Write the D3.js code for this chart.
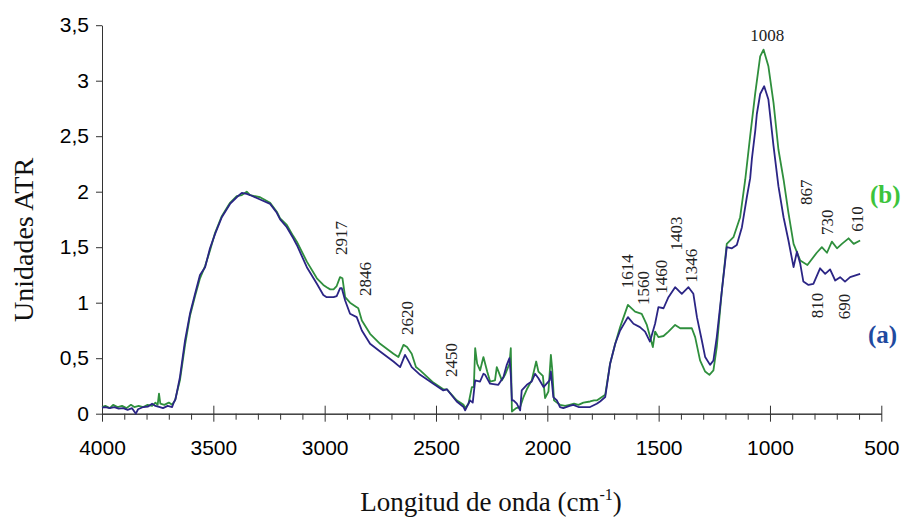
<!DOCTYPE html>
<html>
<head>
<meta charset="utf-8">
<script src="https://cdn.jsdelivr.net/npm/d3@7"></script>
<style>
  body { margin: 0; background: #fff; }
  .tick text { font-family: "Liberation Sans", Arial, sans-serif; }
</style>
</head>
<body>
<script>
// Sample (a) - blue trace: [wavenumber, ATR units]
var seriesA = [
  [4000,0.055],[3985,0.06],[3965,0.05],[3945,0.06],[3925,0.045],[3905,0.05],[3885,0.035],[3865,0.05],
  [3848,0.0],[3838,0.04],[3815,0.06],[3793,0.065],[3775,0.09],[3760,0.07],[3740,0.06],[3726,0.05],
  [3705,0.07],[3685,0.06],[3678,0.1],[3670,0.13],[3650,0.33],[3627,0.66],[3605,0.90],[3582,1.08],
  [3560,1.25],[3537,1.32],[3515,1.49],[3492,1.62],[3462,1.77],[3425,1.89],[3395,1.95],[3372,1.99],
  [3350,1.98],[3335,1.97],[3290,1.93],[3245,1.89],[3215,1.81],[3200,1.75],[3170,1.68],[3141,1.58],
  [3125,1.52],[3080,1.32],[3035,1.17],[3006,1.07],[2991,1.05],[2960,1.05],[2946,1.06],[2931,1.13],
  [2923,1.13],[2908,1.02],[2886,0.90],[2856,0.87],[2833,0.75],[2796,0.63],[2751,0.56],[2691,0.47],
  [2661,0.42],[2639,0.53],[2625,0.48],[2609,0.42],[2571,0.35],[2512,0.27],[2467,0.21],[2451,0.22],
  [2407,0.11],[2376,0.06],[2369,0.03],[2347,0.12],[2335,0.10],[2324,0.30],[2302,0.29],[2287,0.36],
  [2279,0.35],[2257,0.27],[2220,0.26],[2197,0.33],[2182,0.44],[2170,0.50],[2164,0.35],[2159,0.12],
  [2152,0.12],[2137,0.09],[2122,0.03],[2115,0.21],[2092,0.26],[2070,0.29],[2055,0.36],[2040,0.32],
  [2017,0.24],[1990,0.30],[1984,0.38],[1973,0.15],[1957,0.12],[1943,0.06],[1928,0.05],[1900,0.07],
  [1883,0.08],[1860,0.06],[1838,0.06],[1808,0.06],[1778,0.09],[1763,0.11],[1740,0.15],[1718,0.45],
  [1695,0.63],[1673,0.75],[1638,0.87],[1613,0.81],[1584,0.78],[1561,0.74],[1539,0.65],[1516,0.81],
  [1501,0.96],[1478,0.95],[1456,1.05],[1426,1.14],[1396,1.08],[1366,1.14],[1344,1.08],[1328,0.87],
  [1306,0.66],[1291,0.51],[1269,0.44],[1254,0.48],[1239,0.69],[1216,1.11],[1194,1.50],[1171,1.49],
  [1149,1.52],[1126,1.68],[1104,1.95],[1089,2.12],[1081,2.30],[1066,2.55],[1059,2.70],[1044,2.88],
  [1026,2.95],[1007,2.83],[984,2.41],[962,2.05],[939,1.77],[917,1.56],[894,1.32],[879,1.46],
  [864,1.35],[850,1.19],[827,1.16],[805,1.17],[775,1.31],[752,1.26],[730,1.30],[707,1.20],
  [685,1.23],[663,1.19],[640,1.23],[595,1.26]
];

// Sample (b) - green trace
var seriesB = [
  [4000,0.06],[3985,0.07],[3965,0.05],[3950,0.08],[3930,0.06],[3910,0.07],[3890,0.05],[3870,0.08],
  [3855,0.06],[3835,0.07],[3815,0.06],[3795,0.08],[3775,0.07],[3760,0.10],[3750,0.08],[3744,0.18],
  [3738,0.09],[3720,0.08],[3700,0.10],[3685,0.08],[3672,0.12],[3650,0.30],[3627,0.62],[3605,0.88],
  [3582,1.06],[3560,1.22],[3537,1.33],[3515,1.47],[3492,1.63],[3462,1.78],[3425,1.90],[3395,1.96],
  [3372,1.97],[3350,2.0],[3335,1.97],[3290,1.95],[3245,1.90],[3215,1.82],[3200,1.76],[3170,1.70],
  [3141,1.60],[3125,1.55],[3080,1.37],[3035,1.22],[3006,1.16],[2991,1.14],[2975,1.12],[2960,1.12],
  [2946,1.15],[2931,1.23],[2920,1.22],[2908,1.05],[2886,1.00],[2856,0.96],[2849,0.95],[2833,0.84],
  [2796,0.72],[2751,0.63],[2691,0.54],[2669,0.51],[2646,0.62],[2630,0.60],[2609,0.54],[2590,0.42],
  [2571,0.39],[2512,0.28],[2467,0.22],[2451,0.22],[2407,0.12],[2376,0.08],[2369,0.05],[2354,0.09],
  [2339,0.24],[2330,0.24],[2324,0.59],[2315,0.45],[2302,0.39],[2287,0.51],[2270,0.38],[2257,0.29],
  [2235,0.30],[2227,0.42],[2204,0.30],[2190,0.35],[2170,0.45],[2164,0.59],[2159,0.02],[2140,0.05],
  [2122,0.06],[2107,0.15],[2092,0.22],[2070,0.30],[2050,0.47],[2040,0.38],[2020,0.34],[2010,0.14],
  [1995,0.20],[1984,0.53],[1978,0.40],[1970,0.12],[1957,0.10],[1943,0.08],[1920,0.07],[1900,0.08],
  [1880,0.09],[1860,0.08],[1838,0.10],[1808,0.11],[1790,0.12],[1778,0.12],[1763,0.14],[1740,0.17],
  [1718,0.45],[1695,0.63],[1673,0.78],[1638,0.98],[1606,0.92],[1576,0.90],[1553,0.80],[1526,0.60],
  [1516,0.74],[1501,0.69],[1478,0.70],[1456,0.74],[1426,0.80],[1403,0.77],[1351,0.77],[1336,0.69],
  [1314,0.48],[1291,0.38],[1272,0.35],[1254,0.39],[1239,0.60],[1216,1.11],[1194,1.53],[1164,1.59],
  [1134,1.77],[1111,2.11],[1089,2.50],[1066,2.89],[1044,3.22],[1029,3.28],[1007,3.13],[984,2.80],
  [962,2.38],[939,2.11],[917,1.81],[894,1.53],[864,1.38],[832,1.34],[790,1.45],[767,1.50],
  [744,1.45],[722,1.55],[699,1.49],[677,1.53],[647,1.58],[624,1.53],[595,1.56]
];

var xTicks = [4000, 3500, 3000, 2500, 2000, 1500, 1000, 500];
var yTicks = [0, 0.5, 1, 1.5, 2, 2.5, 3, 3.5];

// peak labels, anchored at [wavenumber, ATR units]
var peakLabels = ["2917", "2846", "2620", "2450", "1614", "1560", "1460", "1403", "1346", "867", "730", "610", "810", "690"];
var peakWave   = [2899, 2792, 2603, 2405, 1615, 1543, 1462, 1394, 1327, 810, 716, 581, 761, 640];
var peakValue  = [1.43, 1.06, 0.71, 0.33, 1.13, 0.98, 1.08, 1.47, 1.18, 1.88, 1.61, 1.64, 0.86, 0.85];

var w = 902, h = 526;

var x = d3.scaleLinear().domain([4000, 500]).range([102, 881.3]);
var y = d3.scaleLinear().domain([0, 3.5]).range([413.7, 25.2]);

var svg = d3.select("body").append("svg")
    .attr("width", w)
    .attr("height", h);

// y axis
var yAxis = svg.append("g")
    .attr("transform", "translate(102,0)")
    .call(d3.axisLeft(y)
      .tickValues(yTicks)
      .tickSize(6)
      .tickSizeOuter(0)
      .tickFormat(function(d) { return String(d).replace(".", ","); }));
yAxis.selectAll("text").attr("font-size", 21).attr("fill", "#000").attr("x", -13);
yAxis.selectAll("line, path").attr("stroke", "#333");

// x axis minor ticks every 100
var minor = d3.range(4000, 499, -100).filter(function(d) { return d % 500 !== 0; });
var xMinor = svg.append("g")
    .attr("transform", "translate(0,413.7)")
    .call(d3.axisBottom(x).tickValues(minor).tickSize(6).tickSizeOuter(0).tickFormat(""));
xMinor.selectAll("line, path").attr("stroke", "#333");

// x axis major ticks crossing the line
var xAxis = svg.append("g")
    .attr("transform", "translate(0,413.7)")
    .call(d3.axisBottom(x).tickValues(xTicks).tickSize(8).tickSizeOuter(0)
      .tickPadding(18).tickFormat(d3.format("d")));
xAxis.selectAll(".tick line").attr("y1", -8);
xAxis.selectAll("line, path").attr("stroke", "#333");
xAxis.selectAll("text").attr("font-size", 21).attr("fill", "#000");

var line = d3.line()
    .x(function(d) { return x(d[0]); })
    .y(function(d) { return y(d[1]); });

svg.append("path")
    .datum(seriesB)
    .attr("d", line)
    .attr("fill", "none")
    .attr("stroke", "#2f8f3d")
    .attr("stroke-width", 1.8)
    .attr("stroke-linejoin", "round");

svg.append("path")
    .datum(seriesA)
    .attr("d", line)
    .attr("fill", "none")
    .attr("stroke", "#2b2585")
    .attr("stroke-width", 1.8)
    .attr("stroke-linejoin", "round");

// peak annotations (rotated)
var serif = "'Liberation Serif', 'DejaVu Serif', serif";
svg.selectAll(".peak")
  .data(peakLabels)
  .enter().append("text")
    .attr("class", "peak")
    .attr("transform", function(d, i) {
      return "translate(" + x(peakWave[i]) + "," + y(peakValue[i]) + ") rotate(-90)";
    })
    .attr("font-family", serif)
    .attr("font-size", 17)
    .attr("fill", "#222")
    .text(function(d) { return d; });

svg.append("text")
    .attr("x", x(1008) - 1)
    .attr("y", 41)
    .attr("text-anchor", "middle")
    .attr("font-family", serif)
    .attr("font-size", 17)
    .attr("fill", "#222")
    .text("1008");

// series labels
svg.append("text")
    .attr("x", 870).attr("y", 203)
    .attr("font-family", serif).attr("font-weight", "bold")
    .attr("font-size", 25).attr("fill", "#3cc43c")
    .text("(b)");
svg.append("text")
    .attr("x", 868).attr("y", 343)
    .attr("font-family", serif).attr("font-weight", "bold")
    .attr("font-size", 25).attr("fill", "#1f4aa0")
    .text("(a)");

// axis titles
var xt = svg.append("text")
    .attr("x", 491).attr("y", 511)
    .attr("text-anchor", "middle")
    .attr("font-family", serif)
    .attr("font-size", 27)
    .attr("fill", "#111");
xt.append("tspan").text("Longitud de onda (cm");
xt.append("tspan").attr("dy", -11).attr("font-size", 16).text("-1");
xt.append("tspan").attr("dy", 11).text(")");

svg.append("text")
    .attr("transform", "translate(33,240) rotate(-90)")
    .attr("text-anchor", "middle")
    .attr("font-family", serif)
    .attr("font-size", 28)
    .attr("fill", "#111")
    .text("Unidades ATR");
</script>
</body>
</html>
